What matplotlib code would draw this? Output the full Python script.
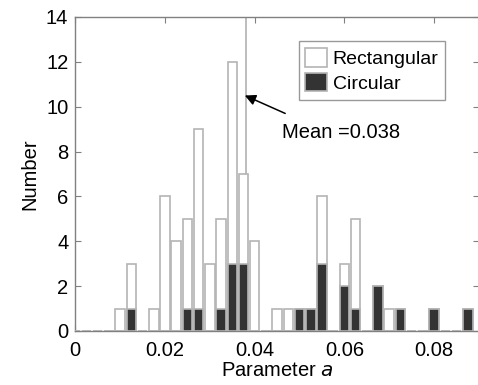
import numpy as np
import matplotlib
matplotlib.use("Agg")
import matplotlib.pyplot as plt

plt.rcParams['font.family'] = ['Liberation Sans', 'DejaVu Sans']

# центры бинов гистограммы (шаг 0.0025)
bin_width = 0.0025
centers = np.arange(36) * bin_width

# количество в каждом бине
rect_counts = [0, 0, 0, 0, 1, 2, 0, 1, 6, 4, 4, 8, 3, 4, 9, 4, 4, 0,
               1, 1, 0, 0, 3, 0, 1, 4, 0, 0, 1, 0, 0, 0, 0, 0, 0, 0]
circ_counts = [0, 0, 0, 0, 0, 1, 0, 0, 0, 0, 1, 1, 0, 1, 3, 3, 0, 0,
               0, 0, 1, 1, 3, 0, 2, 1, 0, 2, 0, 1, 0, 0, 1, 0, 0, 1]
mean_a = 0.038

rect = np.array(rect_counts)
circ = np.array(circ_counts)
total = rect + circ

fig = plt.figure(figsize=(4.78, 3.85), dpi=100)
ax = fig.add_axes([0.1575, 0.1403, 0.8445, 0.8156])

edge = '#b4b4b4'
ax.bar(centers, total, width=bin_width * 0.85, color='white',
       edgecolor=edge, linewidth=1.2, label='Rectangular', zorder=2)
ax.bar(centers, circ, width=bin_width * 0.85, color='#333333',
       edgecolor=edge, linewidth=1.2, label='Circular', zorder=3)

# линия среднего
ax.axvline(mean_a, color='#b8b8b8', linewidth=1.3, zorder=1)
ax.annotate('', xy=(0.0378, 10.5), xytext=(0.0468, 9.7),
            arrowprops=dict(arrowstyle='-|>', color='black', lw=1.1,
                            mutation_scale=16, shrinkA=0, shrinkB=0))
ax.text(0.0461, 8.83, 'Mean =0.038', fontsize=14.5, va='center', ha='left')

ax.set_xlim(0, 0.09)
ax.set_ylim(0, 14)
ax.set_xticks([0, 0.02, 0.04, 0.06, 0.08])
ax.set_xticklabels(['0', '0.02', '0.04', '0.06', '0.08'])
ax.set_yticks(range(0, 15, 2))
ax.tick_params(direction='in', length=4, width=0.8, color='#808080',
               labelsize=14.5, top=True, right=True)
ax.tick_params(axis='x', pad=7)
ax.tick_params(axis='y', pad=5)
for s in ax.spines.values():
    s.set_color('#808080')
    s.set_linewidth(1)

ax.set_xlabel('Parameter $\\mathit{a}$', fontsize=14.5, labelpad=1)
ax.set_ylabel('Number', fontsize=14.5, labelpad=5)

leg = ax.legend(loc='upper left', bbox_to_anchor=(0.553, 0.923), fontsize=14,
                frameon=True, fancybox=False, handlelength=1.1,
                handleheight=1.1, handletextpad=0.3, borderpad=0.35,
                labelspacing=0.25, borderaxespad=0)
leg.get_frame().set_edgecolor('#808080')
leg.get_frame().set_linewidth(1)

plt.savefig('out.png', dpi=100)
